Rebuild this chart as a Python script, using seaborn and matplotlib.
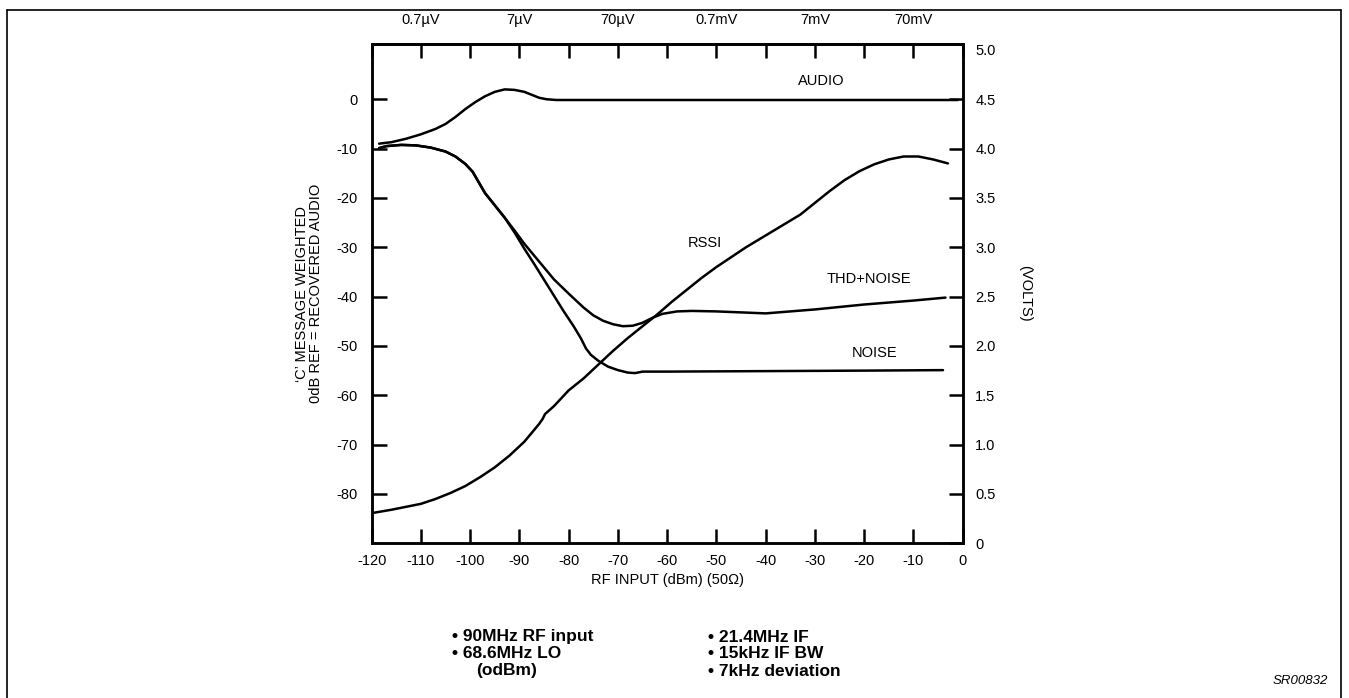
import matplotlib
matplotlib.use("Agg")
import matplotlib.pyplot as plt
import seaborn as sns
import pandas as pd
from matplotlib.lines import Line2D

# ---------------- data ----------------
audio_x = [-118.5, -116, -113, -110, -107, -105, -103, -101, -99, -97, -95, -93, -91,
           -89, -87.5, -86, -84.5, -82.5, -60, -30, -1]
audio_db = [-9.0, -8.7, -8.0, -7.1, -6.0, -5.0, -3.6, -2.0, -0.6, 0.6, 1.5, 2.0, 1.9,
            1.5, 0.9, 0.3, 0.0, -0.15, -0.15, -0.15, -0.15]

thd_x = [-118.5, -117, -114, -111, -108, -105, -103, -101, -99.5, -97, -95, -93, -91, -89,
         -86, -83, -80, -77, -75, -73, -71, -69, -67, -65, -63, -61, -58, -55, -50, -45,
         -40, -30, -20, -10, -3.5]
thd_db = [-9.9, -9.5, -9.25, -9.35, -9.8, -10.6, -11.6, -13.1, -14.7, -19.0, -21.5, -24.0,
          -26.6, -29.3, -32.9, -36.5, -39.4, -42.2, -43.8, -44.9, -45.6, -46.0, -45.9,
          -45.3, -44.3, -43.5, -43.0, -42.9, -43.0, -43.2, -43.4, -42.6, -41.6, -40.8, -40.2]

noise_x = [-118.5, -117, -114, -111, -108, -105, -103, -101, -99.5, -97, -95, -93, -91, -89,
           -87, -85, -83, -81, -79, -77.5, -76.5, -75.5, -74, -72, -70, -68, -66.5, -65,
           -60, -40, -20, -4]
noise_db = [-9.9, -9.5, -9.25, -9.35, -9.8, -10.6, -11.6, -13.1, -14.7, -19.0, -21.5, -24.0,
            -27.0, -30.3, -33.4, -36.6, -39.8, -43.0, -46.0, -48.5, -50.5, -51.8, -53.0,
            -54.2, -54.9, -55.4, -55.5, -55.2, -55.2, -55.1, -55.0, -54.9]

rssi_x = [-119.5, -116, -113, -110, -107, -104, -101, -98, -95, -92, -89, -87, -86, -85.3,
          -84.8, -83, -80, -77, -74, -71, -68, -65, -62, -59, -56, -53, -50, -47, -44,
          -41, -38, -36, -35, -33, -30, -27, -24, -21, -18, -15, -12, -9, -6, -3]
rssi_v = [0.31, 0.34, 0.37, 0.40, 0.45, 0.51, 0.58, 0.67, 0.77, 0.89, 1.03, 1.15, 1.21, 1.26,
          1.31, 1.39, 1.55, 1.67, 1.81, 1.95, 2.08, 2.20, 2.32, 2.45, 2.57, 2.69, 2.80,
          2.90, 3.00, 3.09, 3.18, 3.24, 3.27, 3.33, 3.45, 3.57, 3.68, 3.77, 3.84, 3.89,
          3.92, 3.92, 3.89, 3.85]

x_ticks = list(range(-120, 1, 10))
x_ticklabels = [str(v) for v in x_ticks]
top_ticks = [-110, -90, -70, -50, -30, -10]
top_labels = ["0.7\u00b5V", "7\u00b5V", "70\u00b5V", "0.7mV", "7mV", "70mV"]
left_ticks = [0, -10, -20, -30, -40, -50, -60, -70, -80]
left_labels = [str(v) for v in left_ticks]
right_ticks = [0, 0.5, 1.0, 1.5, 2.0, 2.5, 3.0, 3.5, 4.0, 4.5, 5.0]
right_labels = ["0", "0.5", "1.0", "1.5", "2.0", "2.5", "3.0", "3.5", "4.0", "4.5", "5.0"]

curve_labels = ["AUDIO", "RSSI", "THD+NOISE", "NOISE"]
notes_left = ["\u2022 90MHz RF input", "\u2022 68.6MHz LO", "(odBm)"]
notes_right = ["\u2022 21.4MHz IF", "\u2022 15kHz IF BW", "\u2022 7kHz deviation"]

# ---------------- style ----------------
sns.set_style("ticks")
plt.rcParams['font.family'] = ['Liberation Sans', 'DejaVu Sans']
for k in ("text.color", "axes.labelcolor", "xtick.color", "ytick.color", "axes.edgecolor"):
    plt.rcParams[k] = "black"
FS = 10.5
LW = 1.8

fig = plt.figure(figsize=(13.49, 6.98), dpi=100)
W, H = 1349.0, 698.0
ax = fig.add_axes([371.7 / W, 1 - 543.3 / H, (962.7 - 371.7) / W, (543.3 - 44.0) / H])
ax2 = ax.twinx()

df_a = pd.DataFrame({"x": audio_x, "y": audio_db})
df_t = pd.DataFrame({"x": thd_x, "y": thd_db})
df_n = pd.DataFrame({"x": noise_x, "y": noise_db})
df_r = pd.DataFrame({"x": rssi_x, "y": rssi_v})

for d in (df_a, df_t, df_n):
    sns.lineplot(data=d, x="x", y="y", ax=ax, color="black", linewidth=LW,
                 sort=False, estimator=None)
sns.lineplot(data=df_r, x="x", y="y", ax=ax2, color="black", linewidth=LW,
             sort=False, estimator=None)

ax.set_xlim(-120, 0)
ax.set_ylim(-90, 11.2)
ax2.set_ylim(0, 5.06)

ax.set_xticks(x_ticks, labels=x_ticklabels)
ax.set_yticks(left_ticks, labels=left_labels)
ax2.set_yticks(right_ticks, labels=right_labels)
ax2.yaxis.get_major_ticks()[-1].tick2line.set_visible(False)

ax.tick_params(axis="x", direction="in", length=10, width=LW, top=True, bottom=True,
               labelsize=FS, pad=8, colors="black")
ax.tick_params(axis="y", direction="in", length=11, width=LW, left=True, right=False,
               labelsize=FS, pad=10, colors="black")
ax2.tick_params(axis="y", direction="in", length=10, width=LW, labelsize=FS, pad=9,
                colors="black")

for a in (ax, ax2):
    for s in a.spines.values():
        s.set_visible(True)
        s.set_linewidth(LW)
        s.set_color("black")

secax = ax.secondary_xaxis("top")
secax.set_xticks(top_ticks, labels=top_labels)
secax.tick_params(length=0, pad=12, labelsize=FS, colors="black")
secax.spines["top"].set_linewidth(LW)

ax.set_xlabel("RF INPUT (dBm) (50\u03a9)", fontsize=FS, labelpad=3)
ax.set_ylabel("\u2018C\u2019 MESSAGE WEIGHTED\n0dB REF = RECOVERED AUDIO", fontsize=FS,
              labelpad=10, linespacing=0.95)
ax2.set_ylabel("(VOLTS)", fontsize=FS, rotation=270, labelpad=26)

ax.text(-28.7, 3.6, curve_labels[0], ha="center", va="center", fontsize=FS)
ax.text(-52.4, -29.1, curve_labels[1], ha="center", va="center", fontsize=FS)
ax.text(-19.1, -36.4, curve_labels[2], ha="center", va="center", fontsize=FS)
ax.text(-17.9, -51.5, curve_labels[3], ha="center", va="center", fontsize=FS)

# notes under the chart
rows = [637, 654, 671]
lx = [452, 452, 476]
NFS = 12.5
for t, y, x in zip(notes_left, rows, lx):
    fig.text(x / W, 1 - y / H, t, fontsize=NFS, fontweight="bold", va="center", ha="left")
for t, y in zip(notes_right, rows):
    fig.text(708 / W, 1 - y / H, t, fontsize=NFS, fontweight="bold", va="center", ha="left")

fig.text(1300 / W, 1 - 681 / H, "SR00832", fontsize=9.5, style="italic",
         ha="center", va="center")

# page frame
fl, ft, fr = 7.3 / W, 1 - 10.3 / H, 1341 / W
for xs, ys in (([fl, fl], [0, ft]), ([fl, fr], [ft, ft]), ([fr, fr], [0, ft])):
    fig.add_artist(Line2D(xs, ys, transform=fig.transFigure, color="black", linewidth=1.2))

fig.savefig("out.png", dpi=100)
